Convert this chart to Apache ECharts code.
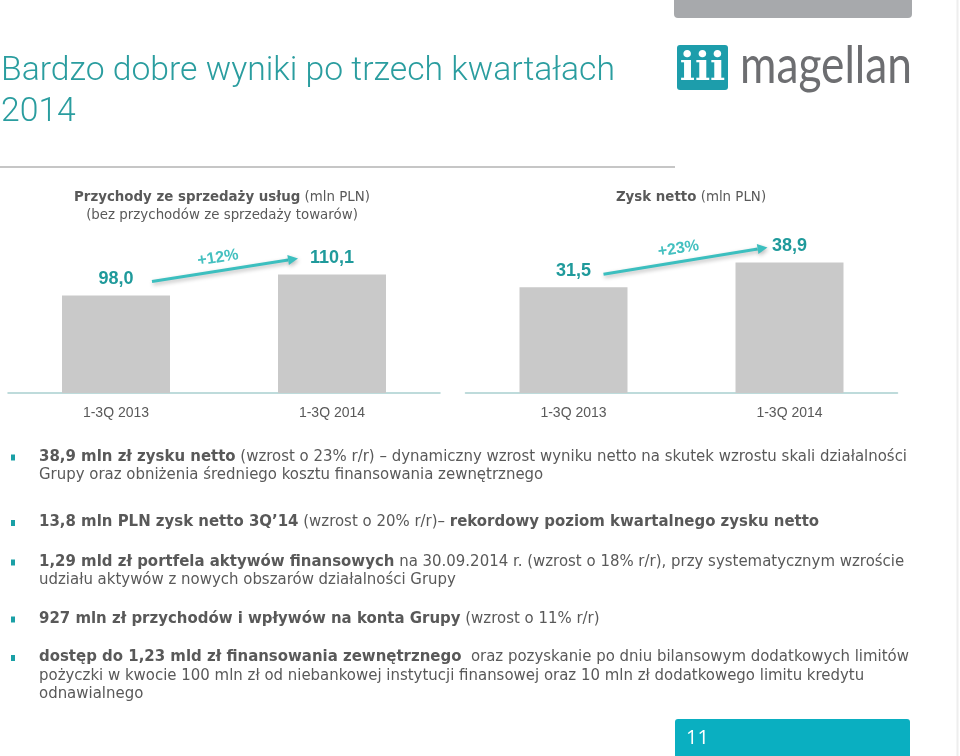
<!DOCTYPE html>
<html><head><meta charset="utf-8">
<script src="https://cdn.jsdelivr.net/npm/echarts@6/dist/echarts.min.js"></script>
<style>html,body{margin:0;padding:0;background:#fff}#c{width:960px;height:756px}</style>
</head><body><div id="c"></div>
<script>
// ---- data ----
const categories = ['1-3Q 2013', '1-3Q 2014'];
const revenue = [98.0, 110.1];
const netProfit = [31.5, 38.9];
const growthLabels = ['+12%', '+23%'];
const titleLines = ['Bardzo dobre wyniki po trzech kwartałach', '2014'];
const revenueHeading = [[['Przychody ze sprzedaży usług', 1], [' (mln PLN)', 0]], [['(bez przychodów ze sprzedaży towarów)', 0]]];
const profitHeading = [[['Zysk netto', 1], [' (mln PLN)', 0]]];
const bullets = [
  [[['38,9 mln zł zysku netto', 1], [' (wzrost o 23% r/r) – dynamiczny wzrost wyniku netto na skutek wzrostu skali działalności', 0]],
   [['Grupy oraz obniżenia średniego kosztu finansowania zewnętrznego', 0]]],
  [[['13,8 mln PLN zysk netto 3Q’14', 1], [' (wzrost o 20% r/r)– ', 0], ['rekordowy poziom kwartalnego zysku netto', 1]]],
  [[['1,29 mld zł portfela aktywów finansowych', 1], [' na 30.09.2014 r. (wzrost o 18% r/r), przy systematycznym wzroście', 0]],
   [['udziału aktywów z nowych obszarów działalności Grupy', 0]]],
  [[['927 mln zł przychodów i wpływów na konta Grupy', 1], [' (wzrost o 11% r/r)', 0]]],
  [[['dostęp do 1,23 mld zł finansowania zewnętrznego', 1], ['  oraz pozyskanie po dniu bilansowym dodatkowych limitów', 0]],
   [['pożyczki w kwocie 100 mln zł od niebankowej instytucji finansowej oraz 10 mln zł dodatkowego limitu kredytu', 0]],
   [['odnawialnego', 0]]]
];
const pageNumber = '11';
const logoText = 'magellan';

// ---- styling / layout ----
const TEAL = '#2a9d9f';
const GRAY_TXT = '#595959';
const BAR = '#c9c9c9';
const bulletTops = [457, 522.5, 562, 619, 657.5];
const bulletLH = 18.5;

const ctx = document.createElement('canvas').getContext('2d');
function fontStr(size, family, weight) { return (weight || 'normal') + ' ' + size + 'px ' + family; }
function measureSegs(segs, size, family, wB, wN) {
  let w = 0;
  segs.forEach(s => { ctx.font = fontStr(size, family, s[1] ? wB : wN); w += ctx.measureText(s[0]).width; });
  return w;
}
function richStr(segs) { return segs.map(s => '{' + (s[1] ? 'b' : 'n') + '|' + s[0] + '}').join(''); }
function richText(x, y, segs, size, family, color, align, sx) {
  return {
    type: 'text', x: x, y: y, scaleX: sx, silent: true,
    style: {
      text: richStr(segs), fontSize: size, fontFamily: family, fill: color,
      align: align, textAlign: align, verticalAlign: 'middle', textVerticalAlign: 'middle',
      rich: {
        b: { fontSize: size, fontFamily: family, fontWeight: 'bold', fill: color, color: color },
        n: { fontSize: size, fontFamily: family, fontWeight: 'normal', fill: color, color: color }
      }
    }
  };
}
const fmt = v => v.toFixed(1).replace('.', ',');

const chart = echarts.init(document.getElementById('c'), null, { renderer: 'canvas' });
const labelCfg = {
  show: true, position: 'top', distance: 7, formatter: p => fmt(p.value),
  color: '#1f9a9b', fontSize: 18, fontWeight: 'bold', fontFamily: 'Liberation Sans'
};
const xAxisBase = {
  type: 'category', data: categories,
  axisLine: { lineStyle: { color: '#a9cfcf', width: 1.5 } },
  axisTick: { show: false },
  axisLabel: { color: GRAY_TXT, fontSize: 14, fontFamily: 'Liberation Sans', margin: 13 }
};
chart.setOption({
  animation: false,
  grid: [
    { left: 8, width: 432, top: 205, height: 188 },
    { left: 465.5, width: 432, top: 205, height: 188 }
  ],
  xAxis: [Object.assign({ gridIndex: 0 }, xAxisBase), Object.assign({ gridIndex: 1 }, xAxisBase)],
  yAxis: [
    { gridIndex: 0, type: 'value', min: 42, max: 150, show: false },
    { gridIndex: 1, type: 'value', min: 0, max: 56, show: false }
  ],
  series: [
    { type: 'bar', xAxisIndex: 0, yAxisIndex: 0, data: revenue, barWidth: '50%', itemStyle: { color: BAR }, label: labelCfg, silent: true },
    { type: 'bar', xAxisIndex: 1, yAxisIndex: 1, data: netProfit, barWidth: '50%', itemStyle: { color: BAR }, label: labelCfg, silent: true }
  ]
});

// ---- decorations ----
const g = [];
g.push({ type: 'rect', shape: { x: 674, y: -6, width: 238, height: 24, r: 4 }, style: { fill: '#a7a9ac' }, silent: true });
g.push({ type: 'line', shape: { x1: 957.5, y1: 0, x2: 957.5, y2: 756 }, style: { stroke: '#eeeeee', lineWidth: 2 }, silent: true });
g.push({ type: 'rect', shape: { x: 677, y: 45, width: 51, height: 45, r: 3 }, style: { fill: '#1d9dab' }, silent: true });
g.push({ type: 'text', x: 702.5, y: 70, silent: true, style: { text: 'iii', fontSize: 40, fontFamily: 'DejaVu Serif', fontWeight: 'bold', fill: '#fff', align: 'center', textAlign: 'center', verticalAlign: 'middle', textVerticalAlign: 'middle' } });
ctx.font = fontStr(52, 'Lato', 'normal');
const logoSx = 172 / ctx.measureText(logoText).width;
g.push({ type: 'text', x: 740, y: 66, scaleX: logoSx, silent: true, style: { text: logoText, fontSize: 52, fontFamily: 'Lato', fill: '#6d6e71', align: 'left', textAlign: 'left', verticalAlign: 'middle', textVerticalAlign: 'middle' } });
ctx.font = fontStr(34, 'Roboto', '300');
const titleSx = 614 / ctx.measureText(titleLines[0]).width;
titleLines.forEach((t, i) => {
  g.push({ type: 'text', x: 1, y: 71 + i * 41, scaleX: titleSx, silent: true, style: { text: t, fontSize: 34, fontFamily: 'Roboto', fontWeight: 300, fill: TEAL, align: 'left', textAlign: 'left', verticalAlign: 'middle', textVerticalAlign: 'middle' } });
});
g.push({ type: 'line', shape: { x1: 0, y1: 167, x2: 675, y2: 167 }, style: { stroke: '#c6c6c6', lineWidth: 2 }, silent: true });
const hSx = 296 / measureSegs(revenueHeading[0], 14, 'DejaVu Sans', 'bold', 'normal');
revenueHeading.forEach((ln, i) => g.push(richText(222, 197 + i * 18, ln, 14, 'DejaVu Sans', GRAY_TXT, 'center', hSx)));
profitHeading.forEach((ln, i) => g.push(richText(691, 197 + i * 18, ln, 14, 'DejaVu Sans', GRAY_TXT, 'center', hSx)));

function arrow(p1, p2, color) {
  const ang = Math.atan2(p2[1] - p1[1], p2[0] - p1[0]);
  const L = 10, W = 5;
  const bx = p2[0] - L * Math.cos(ang), by = p2[1] - L * Math.sin(ang);
  const px = -Math.sin(ang) * W, py = Math.cos(ang) * W;
  const sh = { shadowBlur: 4, shadowColor: 'rgba(0,0,0,0.28)', shadowOffsetY: 2, shadowOffsetX: 1 };
  return [
    { type: 'line', silent: true, shape: { x1: p1[0], y1: p1[1], x2: bx, y2: by }, style: Object.assign({ stroke: color, lineWidth: 3 }, sh) },
    { type: 'polygon', silent: true, shape: { points: [[p2[0], p2[1]], [bx + px, by + py], [bx - px, by - py]] }, style: Object.assign({ fill: color }, sh) }
  ];
}
const arrowOffsets = [
  { s: [36, -14], e: [-34, -16] },
  { s: [30, -13], e: [-22, -15] }
];
[revenue, netProfit].forEach((vals, si) => {
  const a = chart.convertToPixel({ seriesIndex: si }, [0, vals[0]]);
  const b = chart.convertToPixel({ seriesIndex: si }, [1, vals[1]]);
  const o = arrowOffsets[si];
  const p1 = [a[0] + o.s[0], a[1] + o.s[1]];
  const p2 = [b[0] + o.e[0], b[1] + o.e[1]];
  arrow(p1, p2, '#3cbfbf').forEach(e => g.push(e));
  const mx = (p1[0] + p2[0]) / 2 - 7, my = (p1[1] + p2[1]) / 2 - 12;
  const rot = Math.atan2(-(p2[1] - p1[1]), p2[0] - p1[0]);
  g.push({ type: 'text', x: mx, y: my, rotation: rot, silent: true, style: { text: growthLabels[si], fontSize: 16, fontFamily: 'Liberation Sans', fontWeight: 'bold', fill: '#44c0c0', align: 'center', textAlign: 'center', verticalAlign: 'middle', textVerticalAlign: 'middle' } });
});

const bSx = 868 / measureSegs(bullets[0][0], 15, 'DejaVu Sans', 'bold', 'normal');
bullets.forEach((b, bi) => {
  const y0 = bulletTops[bi];
  g.push({ type: 'rect', silent: true, shape: { x: 11, y: y0 - 2.5, width: 4, height: 6 }, style: { fill: '#1aa0a6' } });
  b.forEach((ln, li) => g.push(richText(39, y0 + li * bulletLH, ln, 15, 'DejaVu Sans', GRAY_TXT, 'left', bSx)));
});

g.push({ type: 'rect', silent: true, shape: { x: 675, y: 719, width: 235, height: 45, r: [3, 3, 0, 0] }, style: { fill: '#0aafc1' } });
g.push({ type: 'text', x: 686, y: 738, silent: true, style: { text: pageNumber, fontSize: 20, fontFamily: 'Open Sans', fill: '#ffffff', align: 'left', textAlign: 'left', verticalAlign: 'middle', textVerticalAlign: 'middle' } });

chart.setOption({ graphic: { elements: g } });
</script>
</body></html>
